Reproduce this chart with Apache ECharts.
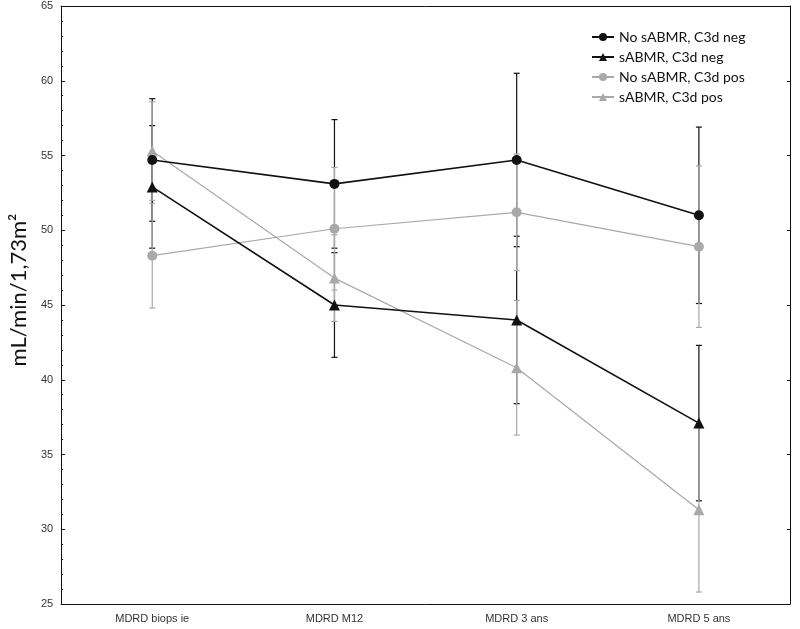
<!DOCTYPE html>
<html>
<head>
<meta charset="utf-8">
<script src="https://cdn.jsdelivr.net/npm/echarts@6/dist/echarts.min.js"></script>
<style>html,body{margin:0;padding:0;background:#fff;}#c{width:800px;height:629px;}</style>
</head>
<body>
<div id="c"></div>
<script>
const categories = ['MDRD biops ie', 'MDRD M12', 'MDRD 3 ans', 'MDRD 5 ans'];
const seriesNames = ['No sABMR, C3d neg', 'sABMR, C3d neg', 'No sABMR, C3d pos', 'sABMR, C3d pos'];
const noNegMean = [54.7, 53.1, 54.7, 51.0];
const noNegErr  = [4.1, 4.3, 5.8, 5.9];
const sNegMean  = [52.9, 45.0, 44.0, 37.1];
const sNegErr   = [4.1, 3.5, 5.6, 5.2];
const noPosMean = [48.3, 50.1, 51.2, 48.9];
const noPosErr  = [3.5, 4.1, 3.9, 5.4];
const sPosMean  = [55.3, 46.8, 40.8, 31.3];
const sPosErr   = [3.3, 2.9, 4.5, 5.5];
const yTicks = [25, 30, 35, 40, 45, 50, 55, 60, 65];

const BLACK = '#111111';
const GRAY = '#a9a9a9';

function errData(mean, err) {
  return mean.map((m, i) => [i, +(m - err[i]).toFixed(2), +(m + err[i]).toFixed(2)]);
}
function errSeries(mean, err, color, z) {
  return {
    type: 'custom', z: z, silent: true,
    data: errData(mean, err),
    encode: { x: 0, y: [1, 2] },
    renderItem: function (params, api) {
      const x = api.value(0);
      const lo = api.coord([x, api.value(1)]);
      const hi = api.coord([x, api.value(2)]);
      const w = 3;
      const st = { stroke: color, lineWidth: 1.2 };
      return {
        type: 'group',
        children: [
          { type: 'line', shape: { x1: lo[0], y1: lo[1], x2: hi[0], y2: hi[1] }, style: st },
          { type: 'line', shape: { x1: lo[0] - w, y1: lo[1], x2: lo[0] + w, y2: lo[1] }, style: st },
          { type: 'line', shape: { x1: hi[0] - w, y1: hi[1], x2: hi[0] + w, y2: hi[1] }, style: st }
        ]
      };
    }
  };
}
function lineSeries(name, data, color, symbol, size, width, z) {
  return {
    name: name, type: 'line', data: data, z: z,
    symbol: symbol, symbolSize: size, showSymbol: true,
    lineStyle: { color: color, width: width },
    itemStyle: { color: color, borderWidth: 0 },
    emphasis: { disabled: true }
  };
}

const chart = echarts.init(document.getElementById('c'), null, { renderer: 'canvas' });
const labelFont = { fontFamily: 'Liberation Sans, Arial, sans-serif', fontSize: 11, color: '#333' };
chart.setOption({
  animation: false,
  backgroundColor: '#fff',
  grid: { left: 55, right: 10, top: 6, bottom: 25, containLabel: false },
  legend: {
    orient: 'vertical', left: 586, top: 25, itemGap: 6,
    itemWidth: 22, itemHeight: 10,
    textStyle: { fontFamily: 'Lato, Open Sans, sans-serif', fontSize: 14, color: '#111' },
    data: seriesNames
  },
  xAxis: [{
    type: 'category', data: categories, boundaryGap: true,
    axisLine: { lineStyle: { color: '#111', width: 1 } },
    axisTick: { inside: true, alignWithLabel: true, length: 3, lineStyle: { color: '#111' } },
    axisLabel: Object.assign({ margin: 9 }, labelFont),
    splitLine: { show: false }
  }, {
    type: 'category', data: categories, position: 'top', boundaryGap: true,
    axisLine: { lineStyle: { color: '#111', width: 1 } },
    axisTick: { inside: true, alignWithLabel: true, length: 3, lineStyle: { color: '#111' } },
    axisLabel: { show: false }, splitLine: { show: false }
  }],
  yAxis: [{
    type: 'value', min: 25, max: 65, interval: 5,
    name: 'mL/min/1,73m²', nameLocation: 'middle', nameGap: 22, nameRotate: 90,
    nameTextStyle: { fontFamily: 'Lato, Open Sans, sans-serif', fontSize: 22, color: '#111', padding: [0, 0, 0, 30] },
    axisLine: { show: true, lineStyle: { color: '#111', width: 1 } },
    axisTick: { show: true, inside: true, length: 4, lineStyle: { color: '#111' } },
    minorTick: { show: true, splitNumber: 5, length: 2, lineStyle: { color: '#111' } },
    axisLabel: Object.assign({ margin: 8, formatter: v => yTicks.includes(v) ? String(v) : '' }, labelFont),
    splitLine: { show: false }
  }, {
    type: 'value', min: 25, max: 65, interval: 5, position: 'right',
    axisLine: { show: true, lineStyle: { color: '#111', width: 1 } },
    axisTick: { show: true, inside: true, length: 3, lineStyle: { color: '#111' } },
    axisLabel: { show: false }, splitLine: { show: false }
  }],
  series: [
    errSeries(noNegMean, noNegErr, BLACK, 1),
    errSeries(sNegMean, sNegErr, BLACK, 1),
    errSeries(noPosMean, noPosErr, GRAY, 2),
    errSeries(sPosMean, sPosErr, GRAY, 2),
    lineSeries(seriesNames[2], noPosMean, GRAY, 'circle', 10, 1.2, 3),
    lineSeries(seriesNames[3], sPosMean, GRAY, 'triangle', 11, 1.2, 3),
    lineSeries(seriesNames[0], noNegMean, BLACK, 'circle', 10, 1.6, 4),
    lineSeries(seriesNames[1], sNegMean, BLACK, 'triangle', 11, 1.6, 4)
  ]
});
</script>
</body>
</html>
